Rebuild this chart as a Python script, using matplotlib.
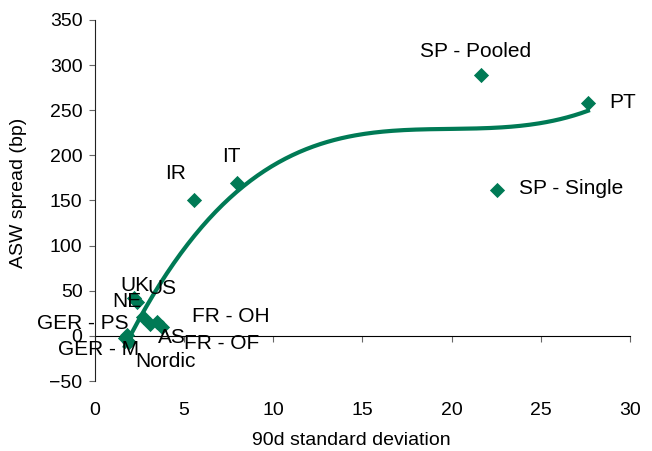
import numpy as np
import matplotlib.pyplot as plt

plt.rcParams['font.family'] = ['Liberation Sans', 'DejaVu Sans']

# datos
paises = ['SP - Pooled', 'PT', 'SP - Single', 'IT', 'IR', 'UK', 'NE', 'US',
          'FR - OH', 'AS', 'FR - OF', 'GER - PS', 'GER - M', 'Nordic']
desv = [21.65, 27.65, 22.55, 7.95, 5.55, 2.19, 2.36, 2.69,
        3.48, 3.08, 3.76, 1.8, 1.68, 1.9]
spread = [289, 258, 162, 169, 150, 42, 38, 21,
          15.5, 13, 10, 1, -2, -7]
# desplazamiento de cada etiqueta (pixeles)
offs = [(-5, 24), (35, 1), (74, 1), (-5, 27), (-18, 27), (1, 12), (-10, 0), (19, 28),
        (74, 5), (22, -13), (60, -17), (-44, 11), (-26, -12), (37, -19)]

verde = '#007A55'

fig = plt.figure(figsize=(6.52, 4.51), dpi=100)
ax = fig.add_axes([0.1457, 0.1552, 0.8203, 0.8005])

ax.scatter(desv, spread, marker='D', s=60, color=verde, zorder=3, linewidths=0)
for p, x, y, o in zip(paises, desv, spread, offs):
    ax.annotate(p, (x, y), xytext=o, textcoords='offset pixels',
                ha='center', va='center', fontsize=15)

# linea de tendencia polinomica de grado 3
coef = np.polyfit(desv, spread, 3)
xs = np.linspace(min(desv), max(desv), 200)
ax.plot(xs, np.polyval(coef, xs), color=verde, lw=3, zorder=2)

ax.set_xlim(0, 30)
ax.set_ylim(-50, 350)
ax.set_xticks(range(0, 31, 5))
ax.set_yticks(range(-50, 351, 50))
ax.spines['top'].set_visible(False)
ax.spines['right'].set_visible(False)
ax.spines['bottom'].set_visible(False)
ax.spines['left'].set_color('#222222')
ax.tick_params(axis='x', length=0, labelsize=14, pad=15)
ax.tick_params(axis='y', length=4, color='#666666', labelsize=14, pad=5)

# eje x cruzando en y=0
eje = ax.secondary_xaxis(50 / 400)
eje.set_xticks(range(0, 31, 5))
eje.tick_params(axis='x', direction='out', length=4, color='#666666', labelbottom=False)
eje.spines['bottom'].set_color('black')

ax.set_xlabel('90d standard deviation', fontsize=14)
ax.set_ylabel('ASW spread (bp)', fontsize=14)
ax.xaxis.set_label_coords(0.48, -0.141)
ax.yaxis.set_label_coords(-0.127, 0.52)

plt.savefig('out.png', dpi=100)
